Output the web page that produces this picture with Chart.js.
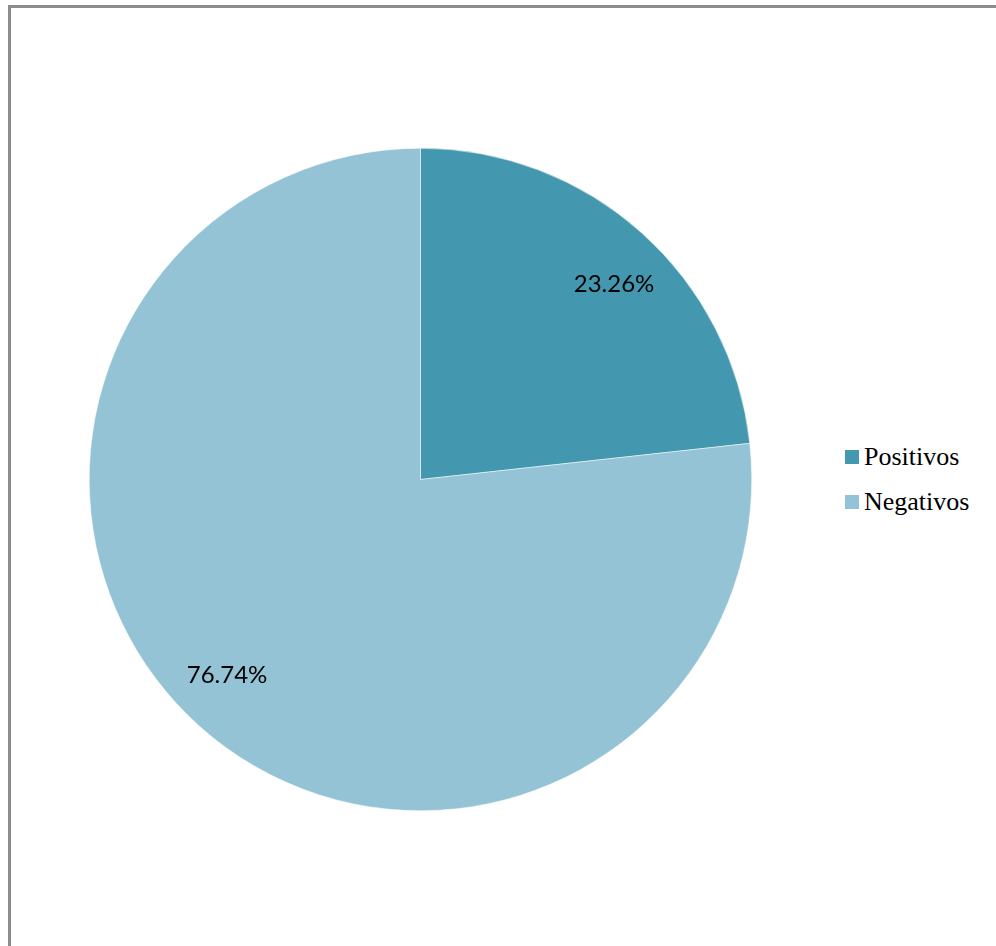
<!DOCTYPE html>
<html>
<head>
<meta charset="utf-8">
<script src="https://cdn.jsdelivr.net/npm/chart.js@4/dist/chart.umd.min.js"></script>
<style>
  html,body{margin:0;padding:0;background:#fff;width:996px;height:946px;overflow:hidden;}
  .top{position:absolute;left:8px;top:5px;width:990px;height:3px;background:#8c8c8c;}
  .left{position:absolute;left:8px;top:5px;width:3px;height:950px;background:#8c8c8c;}
  .pie{position:absolute;left:89px;top:148px;width:663px;height:663px;}
  .legend{position:absolute;left:845px;top:434px;font-family:"Liberation Serif","Times New Roman",serif;font-size:26px;color:#000;}
  .legend div{display:flex;align-items:center;height:45px;line-height:45px;}
  .legend span.sw{display:inline-block;width:14px;height:14px;margin-right:5px;}
</style>
</head>
<body>
<div class="top"></div>
<div class="left"></div>
<div class="pie"><canvas id="c"></canvas></div>
<div class="legend" id="legend"></div>
<script>
const labels = ['Positivos','Negativos'];
const values = [23.26, 76.74];
const colors = ['#4398AF','#93C3D4'];

const pctLabels = {
  id:'pctLabels',
  afterDatasetsDraw(chart){
    const ctx = chart.ctx;
    const meta = chart.getDatasetMeta(0);
    ctx.save();
    ctx.font = '24px Lato, "Open Sans", sans-serif';
    ctx.fillStyle = '#000';
    ctx.textAlign = 'center';
    ctx.textBaseline = 'middle';
    meta.data.forEach((arc,i)=>{
      const p = arc.getProps(['x','y','startAngle','endAngle','outerRadius'], true);
      const mid = (p.startAngle+p.endAngle)/2 + 0.05;
      const r = p.outerRadius*0.83;
      ctx.fillText(values[i].toFixed(2)+'%', p.x+Math.cos(mid)*r, p.y+Math.sin(mid)*r);
    });
    ctx.restore();
  }
};

new Chart(document.getElementById('c'), {
  type:'pie',
  data:{labels:labels, datasets:[{data:values, backgroundColor:colors, borderColor:'#ffffff', borderWidth:0.5}]},
  options:{
    responsive:true, maintainAspectRatio:true, aspectRatio:1, animation:false,
    layout:{padding:0},
    plugins:{legend:{display:false}, tooltip:{enabled:false}}
  },
  plugins:[pctLabels]
});

const lg = document.getElementById('legend');
labels.forEach((l,i)=>{
  const d = document.createElement('div');
  const sw = document.createElement('span'); sw.className='sw'; sw.style.background = colors[i];
  d.appendChild(sw); d.appendChild(document.createTextNode(l));
  lg.appendChild(d);
});
</script>
</body>
</html>
